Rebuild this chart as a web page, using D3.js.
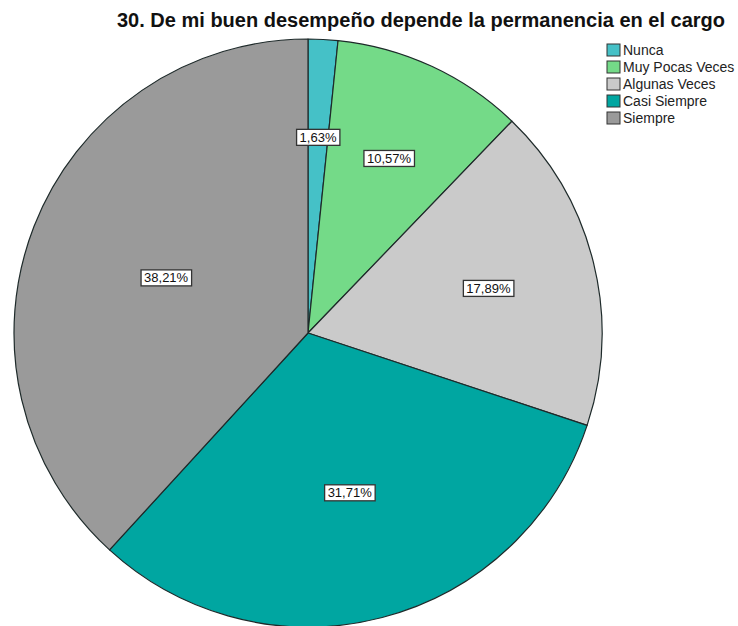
<!DOCTYPE html>
<html>
<head>
<meta charset="utf-8">
<script src="https://cdn.jsdelivr.net/npm/d3@7"></script>
<style>
  html, body { margin: 0; padding: 0; background: #ffffff; }
  svg { display: block; }
</style>
</head>
<body>
<svg id="chart" width="738" height="626"></svg>
<script>
// Response categories and their percentages
const categories = ["Nunca", "Muy Pocas Veces", "Algunas Veces", "Casi Siempre", "Siempre"];
const percents = [1.63, 10.57, 17.89, 31.71, 38.21];
const labels = ["1,63%", "10,57%", "17,89%", "31,71%", "38,21%"];
const colors = ["#45c1c7", "#74da88", "#cacaca", "#00a6a1", "#9a9a9a"];
const title = "30. De mi buen desempeño depende la permanencia en el cargo";

const svg = d3.select("#chart");
const cx = 308, cy = 333, R = 294;

svg.append("text")
  .attr("x", 421).attr("y", 27)
  .attr("text-anchor", "middle")
  .attr("font-family", "Liberation Sans, Arial, sans-serif")
  .attr("font-weight", "bold")
  .attr("font-size", 20)
  .attr("fill", "#111")
  .text(title);

const data = categories.map((c, i) => ({ cat: c, value: percents[i], label: labels[i], color: colors[i] }));

const pie = d3.pie().sort(null).value(d => d.value);
const arcs = pie(data);
const arc = d3.arc().innerRadius(0).outerRadius(R);

const g = svg.append("g").attr("transform", `translate(${cx},${cy})`);

g.selectAll("path.slice")
  .data(arcs)
  .join("path")
  .attr("class", "slice")
  .attr("d", arc)
  .attr("fill", d => d.data.color)
  .attr("stroke", "#1e2a2a")
  .attr("stroke-width", 1.2)
  .attr("stroke-linejoin", "round");

// Labels sit at each sector's centre of mass
const labelG = g.selectAll("g.lbl")
  .data(arcs)
  .join("g")
  .attr("class", "lbl")
  .attr("transform", d => {
    const half = (d.endAngle - d.startAngle) / 2;
    const mid = (d.startAngle + d.endAngle) / 2;
    const dist = half < 1e-6 ? 2 * R / 3 : (2 * R * Math.sin(half)) / (3 * half);
    return `translate(${dist * Math.sin(mid)},${-dist * Math.cos(mid)})`;
  });

labelG.each(function(d) {
  const sel = d3.select(this);
  const t = sel.append("text")
    .attr("text-anchor", "middle")
    .attr("dominant-baseline", "central")
    .attr("font-family", "Liberation Sans, Arial, sans-serif")
    .attr("font-size", 13)
    .attr("fill", "#111")
    .text(d.data.label);
  const bb = t.node().getBBox();
  sel.insert("rect", "text")
    .attr("x", bb.x - 3).attr("y", -8)
    .attr("width", bb.width + 6).attr("height", 16)
    .attr("fill", "#ffffff")
    .attr("stroke", "#333")
    .attr("stroke-width", 1.3);
});

// Legend
const legend = svg.append("g").attr("transform", "translate(607,44)");
const rows = legend.selectAll("g")
  .data(data)
  .join("g")
  .attr("transform", (d, i) => `translate(0,${i * 17})`);
rows.append("rect")
  .attr("width", 13).attr("height", 12)
  .attr("fill", d => d.color)
  .attr("stroke", "#333")
  .attr("stroke-width", 1);
rows.append("text")
  .attr("x", 16).attr("y", 6)
  .attr("dominant-baseline", "central")
  .attr("font-family", "Liberation Sans, Arial, sans-serif")
  .attr("font-size", 14)
  .attr("fill", "#222")
  .text(d => d.cat);
</script>
</body>
</html>
